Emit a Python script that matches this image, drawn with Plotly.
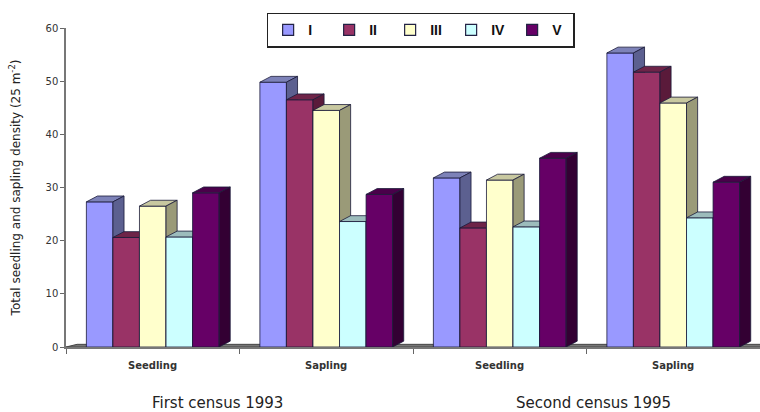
import plotly.graph_objects as go

# ---- data ----
categories = ["Seedling", "Sapling", "Seedling", "Sapling"]
series_names = ["I", "II", "III", "IV", "V"]
val_I = [27.3, 49.8, 31.8, 55.3]
val_II = [20.6, 46.5, 22.4, 51.7]
val_III = [26.5, 44.5, 31.4, 45.9]
val_IV = [20.7, 23.6, 22.6, 24.3]
val_V = [29.0, 28.7, 35.5, 31.0]
census_labels = ["First census 1993", "Second census 1995"]

values = [val_I, val_II, val_III, val_IV, val_V]
front_colors = ["#9999ff", "#993366", "#ffffcc", "#ccffff", "#660066"]
top_colors = ["#7d82b8", "#6e2448", "#c8c8a0", "#9cbcbc", "#4a004a"]
side_colors = ["#5c6090", "#5a1a3a", "#9a9a78", "#7a9a9a", "#330033"]
edge = "#1a1a3a"
WIDE = "DejaVu Sans, Verdana, sans-serif"

W = 0.153   # bar front width (x units)
DX = 0.064  # depth offset x
DY = 1.1    # depth offset y

fig = go.Figure()

# floor slab
fx0, fx1 = -0.5, 3.5
fig.add_trace(go.Scatter(
    x=[fx0, fx1, fx1 + DX, fx0 + DX, fx0], y=[0, 0, 0.5, 0.5, 0],
    mode="lines", fill="toself", fillcolor="#777777",
    line=dict(color="#444444", width=1), showlegend=False, hoverinfo="skip"))

n = len(series_names)
start = -W * n / 2
for i, (name, vals) in enumerate(zip(series_names, values)):
    fx, fy, tx, ty, sx, sy = [], [], [], [], [], []
    for g, v in enumerate(vals):
        x0 = g + start + i * W
        x1 = x0 + W
        fx += [x0, x1, x1, x0, x0, None]
        fy += [0, 0, v, v, 0, None]
        tx += [x0, x1, x1 + DX, x0 + DX, x0, None]
        ty += [v, v, v + DY, v + DY, v, None]
        sx += [x1, x1 + DX, x1 + DX, x1, x1, None]
        sy += [0, DY, v + DY, v, 0, None]
    fig.add_trace(go.Scatter(x=fx, y=fy, mode="lines", fill="toself",
                             fillcolor=front_colors[i], line=dict(color=edge, width=0.8),
                             showlegend=False, hoverinfo="skip"))
    fig.add_trace(go.Scatter(x=tx, y=ty, mode="lines", fill="toself",
                             fillcolor=top_colors[i], line=dict(color=edge, width=0.8),
                             showlegend=False, hoverinfo="skip"))
    fig.add_trace(go.Scatter(x=sx, y=sy, mode="lines", fill="toself",
                             fillcolor=side_colors[i], line=dict(color=edge, width=0.8),
                             showlegend=False, hoverinfo="skip"))

# legend entries
for i, name in enumerate(series_names):
    fig.add_trace(go.Scatter(x=[None], y=[None], mode="markers", name="<b>" + name + "</b>",
                             marker=dict(symbol="square", size=11, color=front_colors[i],
                                         line=dict(color="#222244", width=1.2))))

annotations = []
for g, c in enumerate(categories):
    annotations.append(dict(x=g, y=-0.058, xref="x", yref="paper", text="<b>" + c + "</b>",
                            showarrow=False, xanchor="center", yanchor="middle",
                            font=dict(family=WIDE, size=10, color="#333")))
annotations.append(dict(x=0.219, y=-0.175, xref="paper", yref="paper", text=census_labels[0],
                        showarrow=False, xanchor="center", yanchor="middle",
                        font=dict(family=WIDE, size=15, color="#222")))
annotations.append(dict(x=0.76, y=-0.175, xref="paper", yref="paper", text=census_labels[1],
                        showarrow=False, xanchor="center", yanchor="middle",
                        font=dict(family=WIDE, size=15, color="#222")))

fig.update_layout(
    width=760, height=412,
    margin=dict(l=66, r=0, t=28, b=65),
    paper_bgcolor="white", plot_bgcolor="white",
    font=dict(family="Liberation Sans, Arial", color="#222"),
    xaxis=dict(range=[-0.5, 3.5], tickvals=[-0.5, 0.5, 1.5, 2.5, 3.5],
               showticklabels=False, ticks="outside", ticklen=5,
               tickcolor="#666", showline=True, linecolor="#777", linewidth=1.5,
               showgrid=False, zeroline=False, fixedrange=True),
    yaxis=dict(range=[0, 60], dtick=10, ticks="outside", ticklen=4, tickcolor="#666",
               showline=True, linecolor="#777", linewidth=1.5, showgrid=False,
               zeroline=False, tickfont=dict(family=WIDE, size=10, color="#333"),
               title=dict(text="Total seedling and sapling density (25 m<sup>-2</sup>)",
                          font=dict(family=WIDE, size=12, color="#222"), standoff=22)),
    legend=dict(orientation="h", x=0.511, xanchor="center", y=1.048, yanchor="top",
                bordercolor="#222", borderwidth=1.5, bgcolor="white",
                font=dict(size=14, color="#111", family="Liberation Sans, Arial"),
                entrywidth=16, itemwidth=30, tracegroupgap=0),
    annotations=annotations,
    showlegend=True,
)

fig.write_html("out.html")
